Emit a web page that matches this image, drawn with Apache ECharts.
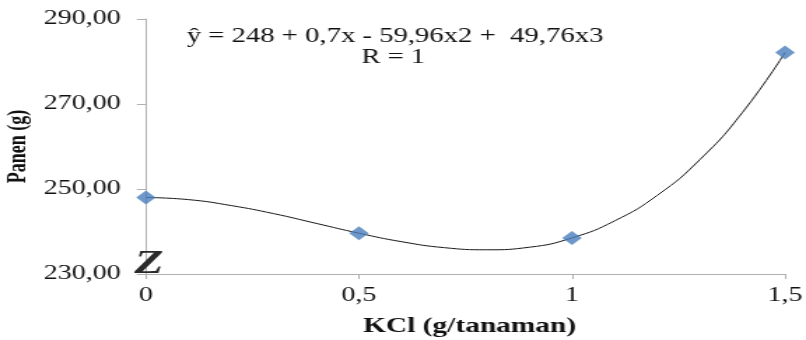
<!DOCTYPE html>
<html>
<head>
<meta charset="utf-8">
<script src="https://cdn.jsdelivr.net/npm/echarts@6/dist/echarts.min.js"></script>
<style>
html,body{margin:0;padding:0;background:#fff;overflow:hidden;}
#c{width:576px;height:340px;transform:scaleX(1.39931);transform-origin:0 0;}
</style>
</head>
<body>
<div id="c"></div>
<script>
// Observed data points
var kclDoses = [0, 0.5, 1, 1.5];
var panenValues = [248.0, 239.6, 238.5, 282.1];
// Trend line
var trendX = [0, 0.1, 0.2, 0.3, 0.4, 0.5, 0.6, 0.7, 0.8, 0.9, 1.0, 1.1, 1.2, 1.3, 1.4, 1.5];
var trendY = [248.0, 247.5, 246.1, 244.2, 241.9, 239.6, 237.6, 236.2, 235.7, 236.3, 238.5, 242.5, 248.5, 256.9, 268.0, 282.1];
// Axis ticks
var yMin = 230, yMax = 290, yStep = 20;
var xMin = 0, xMax = 1.5, xStep = 0.5;
var equationText = 'ŷ = 248 + 0,7x - 59,96x2 +  49,76x3';
var rText = 'R = 1';
var xTitle = 'KCl (g/tanaman)';
var yTitle = 'Panen (g)';

var font = '"Liberation Serif", "Times New Roman", serif';
var chart = echarts.init(document.getElementById('c'), null, {renderer: 'canvas'});
var scatterData = kclDoses.map(function (x, i) { return [x, panenValues[i]]; });
var trendData = trendX.map(function (x, i) { return [x, trendY[i]]; });

chart.setOption({
  animation: false,
  backgroundColor: '#ffffff',
  grid: {left: 104.3, right: 15, top: 19, bottom: 66, containLabel: false, outerBoundsMode: 'none'},
  xAxis: {
    type: 'value', min: xMin, max: xMax, interval: xStep,
    name: xTitle, nameLocation: 'middle', nameGap: 42, nameMoveOverlap: false,
    nameTextStyle: {fontFamily: font, fontSize: 21, fontWeight: 'bold', color: '#111', padding: [0, 0, 0, 6]},
    axisLine: {show: true, lineStyle: {color: '#b0b0b0', width: 1}},
    axisTick: {show: true, length: 5, lineStyle: {color: '#b0b0b0'}},
    splitLine: {show: false},
    axisLabel: {fontFamily: font, fontSize: 20, color: '#111', margin: 12,
      formatter: function (v) { return String(v).replace('.', ','); }}
  },
  yAxis: {
    type: 'value', min: yMin, max: yMax, interval: yStep,
    name: yTitle, nameLocation: 'middle', nameGap: 82, nameMoveOverlap: false,
    nameTextStyle: {fontFamily: font, fontSize: 18, fontWeight: 'bold', color: '#111'},
    axisLine: {show: true, lineStyle: {color: '#b0b0b0', width: 1}},
    axisTick: {show: true, length: 6.5, lineStyle: {color: '#b0b0b0'}},
    splitLine: {show: false},
    axisLabel: {fontFamily: font, fontSize: 20, color: '#111', margin: 18,
      formatter: function (v) { return v.toFixed(2).replace('.', ','); }}
  },
  graphic: [
    {type: 'text', x: 282.3, y: 26, style: {text: equationText, font: '20.5px ' + font, fill: '#111', textAlign: 'center', textVerticalAlign: 'top'}},
    {type: 'text', x: 281, y: 47, style: {text: rText, font: '20.5px ' + font, fill: '#111', textAlign: 'center', textVerticalAlign: 'top'}},
    {type: 'text', x: 106.5, y: 264, z: 100,
      style: {text: 'Z', font: 'italic bold 34px ' + font, fill: '#2a2a2a', textAlign: 'center', textVerticalAlign: 'middle',
        shadowBlur: 3, shadowColor: 'rgba(0,0,0,0.5)'}}
  ],
  series: [
    {type: 'line', data: trendData, smooth: true, showSymbol: false, symbol: 'none',
      lineStyle: {color: '#1a1a1a', width: 1}, z: 2},
    {type: 'scatter', data: scatterData, symbol: 'diamond', symbolSize: [14, 14],
      itemStyle: {color: '#4a7ebb'}, z: 3}
  ]
});
</script>
</body>
</html>
